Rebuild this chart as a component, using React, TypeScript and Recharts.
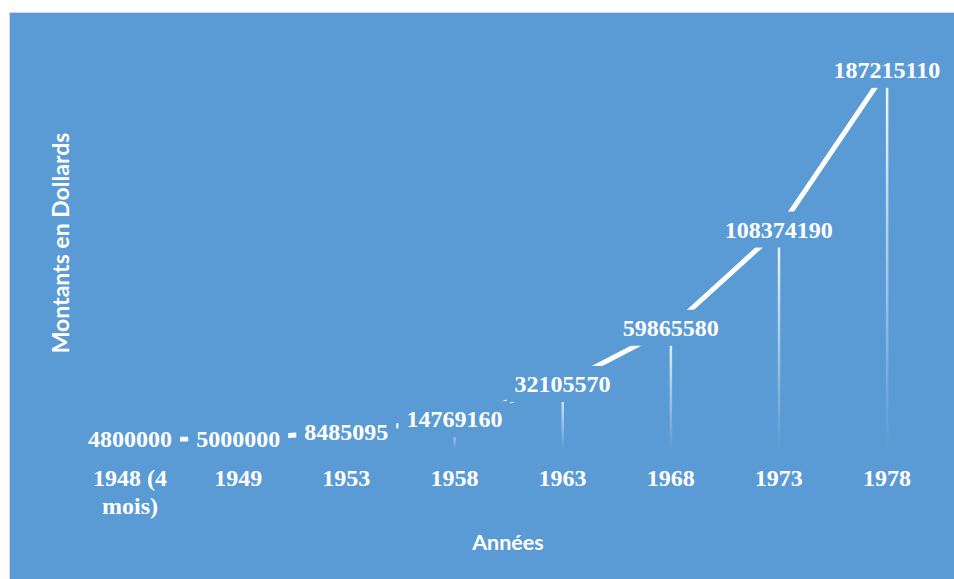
import { ComposedChart, Bar, Line, XAxis, YAxis, LabelList } from "recharts";

// Montants annuels, en dollars
const years = ["1948 (4 mois)", "1949", "1953", "1958", "1963", "1968", "1973", "1978"];
const amounts = [4800000, 5000000, 8485095, 14769160, 32105570, 59865580, 108374190, 187215110];
const amountDomain = [0, 200000000];

const data = years.map((year, i) => ({ year, amount: amounts[i] }));

const BG = "#5B9BD5";
const serif = "'Liberation Serif', 'Times New Roman', serif";
const sans = "Lato, 'Open Sans', sans-serif";

// break a category name into short lines (about 8 characters each)
function wrapWords(label: string, maxChars = 8) {
  const lines: string[] = [];
  let cur = "";
  for (const word of label.split(" ")) {
    const next = cur ? cur + " " + word : word;
    if (next.length > maxChars && cur) {
      lines.push(cur);
      cur = word;
    } else {
      cur = next;
    }
  }
  if (cur) lines.push(cur);
  return lines;
}

function YearTick({ x, y, payload }: any) {
  const lines = wrapWords(String(payload.value));
  return (
    <text
      x={x}
      y={y + 37}
      textAnchor="middle"
      fill="#fff"
      style={{ fontFamily: serif, fontWeight: 700, fontSize: 24 }}
    >
      {lines.map((line, i) => (
        <tspan key={i} x={x} dy={i === 0 ? 0 : 28}>
          {line}
        </tspan>
      ))}
    </text>
  );
}

// value label centred on the point, boxed in the background colour so the line passes under it
function AmountLabel(props: any) {
  const x = props.x ?? props.viewBox?.x;
  const y = props.y ?? props.viewBox?.y;
  const text = String(props.value);
  const w = text.length * 12 + 16;
  return (
    <g>
      <rect x={x - w / 2} y={y - 18} width={w} height={36} fill={BG} />
      <text
        x={x}
        y={y}
        textAnchor="middle"
        dominantBaseline="central"
        fill="#fff"
        style={{ fontFamily: serif, fontWeight: 700, fontSize: 24 }}
      >
        {text}
      </text>
    </g>
  );
}

export default function App() {
  return (
    <div
      style={{
        position: "absolute",
        left: 9,
        top: 12,
        width: 944,
        height: 566,
        background: BG,
        borderLeft: "1px solid #d6d6d6",
        borderTop: "1px solid #d6d6d6",
      }}
    >
      <ComposedChart
        width={944}
        height={566}
        data={data}
        margin={{ top: 31, right: 13, bottom: 70, left: 66 }}
      >
        <defs>
          <linearGradient id="dropFade" x1="0" y1="0" x2="0" y2="1">
            <stop offset="0%" stopColor="#fff" stopOpacity={0.95} />
            <stop offset="100%" stopColor="#fff" stopOpacity={0} />
          </linearGradient>
        </defs>
        <XAxis
          dataKey="year"
          axisLine={false}
          tickLine={false}
          tickSize={0}
          tickMargin={0}
          height={60}
          interval={0}
          tick={<YearTick />}
        />
        <YAxis hide domain={amountDomain} />
        <Bar dataKey="amount" barSize={2.5} fill="url(#dropFade)" isAnimationActive={false} />
        <Line
          dataKey="amount"
          stroke="#fff"
          strokeWidth={5}
          dot={false}
          activeDot={false}
          isAnimationActive={false}
        >
          <LabelList dataKey="amount" content={AmountLabel} />
        </Line>
      </ComposedChart>
      <div
        style={{
          position: "absolute",
          left: 50,
          top: 230,
          transform: "translate(-50%, -50%) rotate(-90deg)",
          whiteSpace: "nowrap",
          color: "#fff",
          fontFamily: sans,
          fontWeight: 700,
          fontSize: 23,
        }}
      >
        Montants en Dollards
      </div>
      <div
        style={{
          position: "absolute",
          left: 498,
          top: 529,
          transform: "translate(-50%, -50%)",
          whiteSpace: "nowrap",
          color: "#fff",
          fontFamily: sans,
          fontWeight: 700,
          fontSize: 21.5,
        }}
      >
        Années
      </div>
    </div>
  );
}
